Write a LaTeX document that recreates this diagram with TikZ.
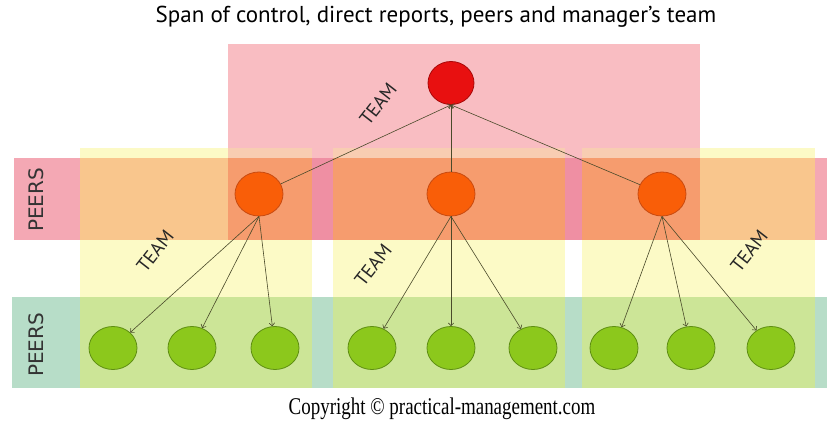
\documentclass[tikz,border=0pt]{standalone}
\usepackage{fontspec}
\setmainfont{PT Sans}
\newfontfamily\peersfont{DejaVu Sans}
\newfontfamily\copyfont[FakeStretch=0.79]{Liberation Serif}
\usetikzlibrary{arrows,shapes.geometric}

\definecolor{colyellow}{HTML}{FCFAC6}
\definecolor{boxpink}{HTML}{F9BDC2}
\definecolor{peach}{HTML}{F8CDB2}
\definecolor{bandpink}{HTML}{F4A8B4}
\definecolor{bandorange}{HTML}{F9C68D}
\definecolor{bandsalmon}{HTML}{F69C6E}
\definecolor{bandrose}{HTML}{EF8FA3}
\definecolor{bandteal}{HTML}{B7DDC8}
\definecolor{bandlime}{HTML}{CCE597}
\definecolor{bossfill}{HTML}{E81010}
\definecolor{bossline}{HTML}{A80808}
\definecolor{leadfill}{HTML}{F95E08}
\definecolor{leadline}{HTML}{C84A10}
\definecolor{stafffill}{HTML}{8CC81C}
\definecolor{staffline}{HTML}{5E8E12}
\definecolor{linkgrey}{HTML}{4A4A2A}

\begin{document}
\begin{tikzpicture}[x=1pt,y=-1pt,
  boss/.style={ellipse, draw=bossline, fill=bossfill, line width=.8pt, inner sep=0, minimum width=46pt, minimum height=43pt},
  lead/.style={ellipse, draw=leadline, fill=leadfill, line width=.8pt, inner sep=0, minimum width=48pt, minimum height=44pt},
  staff/.style={ellipse, draw=staffline, fill=stafffill, line width=.8pt, inner sep=0, minimum width=48pt, minimum height=43pt},
  link/.style={->, >=angle 90, line width=.6pt, draw=linkgrey},
  teamlabel/.style={rotate=52, inner sep=1pt, text=black!85, font=\fontsize{19}{19}\selectfont},
  peerslabel/.style={rotate=90, text=black!80, font=\peersfont\fontsize{20}{20}\selectfont}]
\useasboundingbox (0,0) rectangle (827,427);

% TEAM COLUMNS AND MANAGER'S BOX
\foreach \xa/\xb in {80/312,333/565,582/815}
  \fill[colyellow] (\xa,148) rectangle (\xb,388);
\fill[boxpink] (228,44) rectangle (700,158);
\foreach \xa/\xb in {228/312,333/565,582/700}
  \fill[peach] (\xa,148) rectangle (\xb,158);

% PEERS BANDS
\fill[bandpink] (14,158) rectangle (827,240);
\foreach \xa/\xb in {80/312,333/565,582/815}
  \fill[bandorange] (\xa,158) rectangle (\xb,240);
\fill[bandrose] (228,158) rectangle (700,240);
\foreach \xa/\xb in {228/312,333/565,582/700}
  \fill[bandsalmon] (\xa,158) rectangle (\xb,240);
\fill[bandteal] (12,297) rectangle (827,388);
\foreach \xa/\xb in {80/312,333/565,582/815}
  \fill[bandlime] (\xa,297) rectangle (\xb,388);

% NODES
\node[boss] (r) at (451,83) {};
\node[lead] (o1) at (259,194) {};
\node[lead] (o2) at (451,194) {};
\node[lead] (o3) at (662,194) {};
\foreach \gx [count=\i] in {113,192,275,372,451,533,614,691,771}
  \node[staff] (g\i) at (\gx,348) {};

% LINKS
\foreach \o in {o1,o2,o3}
  \draw[link] (\o) -- (r.south);
\foreach \o/\a/\b/\c in {o1/1/2/3,o2/4/5/6,o3/7/8/9}
  \foreach \g in {\a,\b,\c}
    \draw[link] (\o.south) -- (g\g);

% LABELS
\node (title) at (436,17) {\fontsize{23}{23}\selectfont Span of control, direct reports, peers and manager’s team};
\node[teamlabel] (team0) at (378,104) {TEAM};
\node[teamlabel] (team1) at (155,251) {TEAM};
\node[teamlabel] (team2) at (373,265) {TEAM};
\node[teamlabel] (team3) at (749,251) {TEAM};
\node[peerslabel] (peers1) at (36,200) {PEERS};
\node[peerslabel] (peers2) at (36,345) {PEERS};
\node (copy) at (442,409) {\copyfont\fontsize{24}{24}\selectfont Copyright © practical-management.com};
\end{tikzpicture}
\end{document}
